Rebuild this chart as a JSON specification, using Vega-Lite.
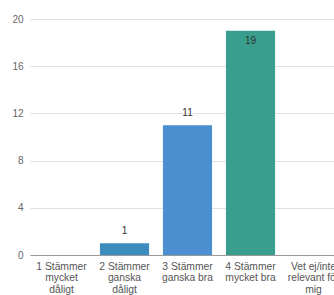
{
  "$schema": "https://vega.github.io/schema/vega-lite/v6.json",
  "autosize": {"type": "none"},
  "width": 315,
  "height": 236,
  "padding": {"left": 30, "top": 19, "right": 0, "bottom": 40},
  "background": "white",
  "config": {
    "view": {"stroke": null},
    "font": "Liberation Sans"
  },
  "data": {
    "values": [
      {"svar": "1 Stämmer mycket dåligt", "antal": 0},
      {"svar": "2 Stämmer ganska dåligt", "antal": 1},
      {"svar": "3 Stämmer ganska bra", "antal": 11},
      {"svar": "4 Stämmer mycket bra", "antal": 19},
      {"svar": "Vet ej/inte relevant för mig", "antal": 0}
    ]
  },
  "encoding": {
    "x": {
      "field": "svar",
      "type": "nominal",
      "sort": null,
      "scale": {"paddingInner": 0.22, "paddingOuter": 0.11},
      "axis": {
        "title": null,
        "labelAngle": 0,
        "ticks": false,
        "domainColor": "#999999",
        "labelColor": "#555555",
        "labelFontSize": 10.3,
        "labelLineHeight": 11.5,
        "labelPadding": 6,
        "labelBaseline": "top",
        "labelLimit": 0,
        "labelExpr": "datum.value == '1 Stämmer mycket dåligt' ? ['1 Stämmer','mycket','dåligt'] : datum.value == '2 Stämmer ganska dåligt' ? ['2 Stämmer','ganska','dåligt'] : datum.value == '3 Stämmer ganska bra' ? ['3 Stämmer','ganska bra'] : datum.value == '4 Stämmer mycket bra' ? ['4 Stämmer','mycket bra'] : ['Vet ej/inte','relevant för','mig']"
      }
    },
    "y": {
      "field": "antal",
      "type": "quantitative",
      "scale": {"domain": [0, 20]},
      "axis": {
        "title": null,
        "values": [0, 4, 8, 12, 16, 20],
        "domain": false,
        "ticks": false,
        "gridColor": "#e2e2e2",
        "labelColor": "#666666",
        "labelFontSize": 10,
        "labelPadding": 7
      }
    }
  },
  "layer": [
    {
      "mark": {"type": "bar"},
      "encoding": {
        "color": {
          "field": "svar",
          "type": "nominal",
          "legend": null,
          "scale": {
            "domain": ["1 Stämmer mycket dåligt", "2 Stämmer ganska dåligt", "3 Stämmer ganska bra", "4 Stämmer mycket bra", "Vet ej/inte relevant för mig"],
            "range": ["#4a8fcf", "#3d8cbf", "#4b8fd0", "#3a9e8e", "#3a9e8e"]
          }
        }
      }
    },
    {
      "transform": [{"filter": "datum.antal > 0 && datum.antal < 15"}],
      "mark": {"type": "text", "dy": -7, "baseline": "bottom", "fontSize": 10, "color": "#333333"},
      "encoding": {"text": {"field": "antal", "type": "quantitative"}}
    },
    {
      "transform": [{"filter": "datum.antal >= 15"}],
      "mark": {"type": "text", "dy": 5, "baseline": "top", "fontSize": 10, "color": "#333333"},
      "encoding": {"text": {"field": "antal", "type": "quantitative"}}
    }
  ]
}
